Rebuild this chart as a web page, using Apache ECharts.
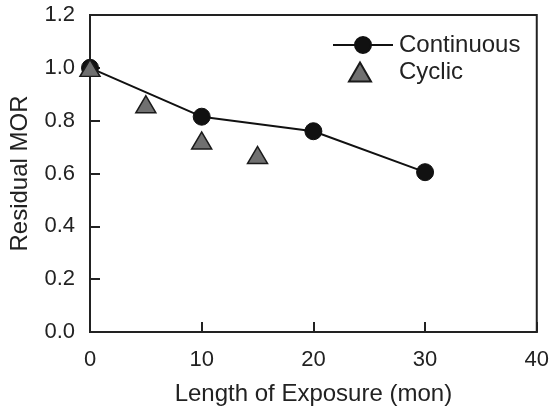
<!DOCTYPE html>
<html>
<head>
<meta charset="utf-8">
<script src="https://cdn.jsdelivr.net/npm/echarts@6/dist/echarts.min.js"></script>
<style>
  html, body { margin: 0; padding: 0; background: #fff; }
  #chart { width: 552px; height: 412px; }
</style>
</head>
<body>
<div id="chart"></div>
<script>
// values
const continuousX = [0, 10, 20, 30];
const continuousY = [1.0, 0.815, 0.76, 0.605];
const cyclicX = [0, 5, 10, 15];
const cyclicY = [1.0, 0.862, 0.725, 0.67];

const xTicks = [0, 10, 20, 30, 40];
const yTicks = [0.0, 0.2, 0.4, 0.6, 0.8, 1.0, 1.2];

const ink = '#222';
const font = '"Liberation Sans", Arial, sans-serif';

let chart = echarts.init(document.getElementById('chart'));

let legendText = { fontSize: 24, color: ink, fontFamily: font };

let option = {
  animation: false,
  backgroundColor: '#fff',
  textStyle: { fontFamily: font, color: ink },
  grid: {
    left: 88, right: 13, top: 15, bottom: 80,
    show: true, borderColor: ink, borderWidth: 2
  },
  // two legends so the triangle keeps its shape
  legend: [
    {
      left: 327, top: 28,
      itemWidth: 60, itemHeight: 20,
      textStyle: Object.assign({ padding: [0, 0, 0, 1] }, legendText),
      data: ['Continuous']
    },
    {
      left: 343, top: 55,
      itemWidth: 22, itemHeight: 19,
      textStyle: Object.assign({ padding: [0, 0, 0, 23] }, legendText),
      data: ['Cyclic']
    }
  ],
  xAxis: {
    type: 'value',
    min: xTicks[0], max: xTicks[xTicks.length - 1], interval: 10,
    name: 'Length of Exposure (mon)',
    nameLocation: 'middle', nameGap: 50,
    nameTextStyle: { fontSize: 24, color: ink, fontFamily: font },
    axisLine: { show: true, lineStyle: { color: ink, width: 2 } },
    axisTick: { show: true, inside: true, length: 10, lineStyle: { color: ink, width: 2 } },
    axisLabel: { fontSize: 22, color: ink, margin: 17, fontFamily: font },
    splitLine: { show: false }
  },
  yAxis: {
    type: 'value',
    min: yTicks[0], max: yTicks[yTicks.length - 1], interval: 0.2,
    name: 'Residual MOR',
    nameLocation: 'middle', nameGap: 58,
    nameTextStyle: { fontSize: 24, color: ink, fontFamily: font },
    axisLine: { show: true, lineStyle: { color: ink, width: 2 } },
    axisTick: { show: true, inside: true, length: 10, lineStyle: { color: ink, width: 2 } },
    axisLabel: {
      fontSize: 22, color: ink, margin: 15, fontFamily: font,
      formatter: v => v.toFixed(1)
    },
    splitLine: { show: false }
  },
  series: [
    {
      name: 'Continuous',
      type: 'line',
      data: continuousX.map((x, i) => [x, continuousY[i]]),
      symbol: 'circle',
      symbolSize: 17,
      lineStyle: { color: '#111', width: 2 },
      itemStyle: { color: '#111', borderColor: '#111', borderWidth: 1 },
      z: 3
    },
    {
      name: 'Cyclic',
      type: 'scatter',
      data: cyclicX.map((x, i) => [x, cyclicY[i]]),
      symbol: 'triangle',
      symbolSize: [20, 17],
      itemStyle: { color: '#707070', borderColor: '#1a1a1a', borderWidth: 1.5, opacity: 1 },
      z: 4
    }
  ]
};

chart.setOption(option);
</script>
</body>
</html>
